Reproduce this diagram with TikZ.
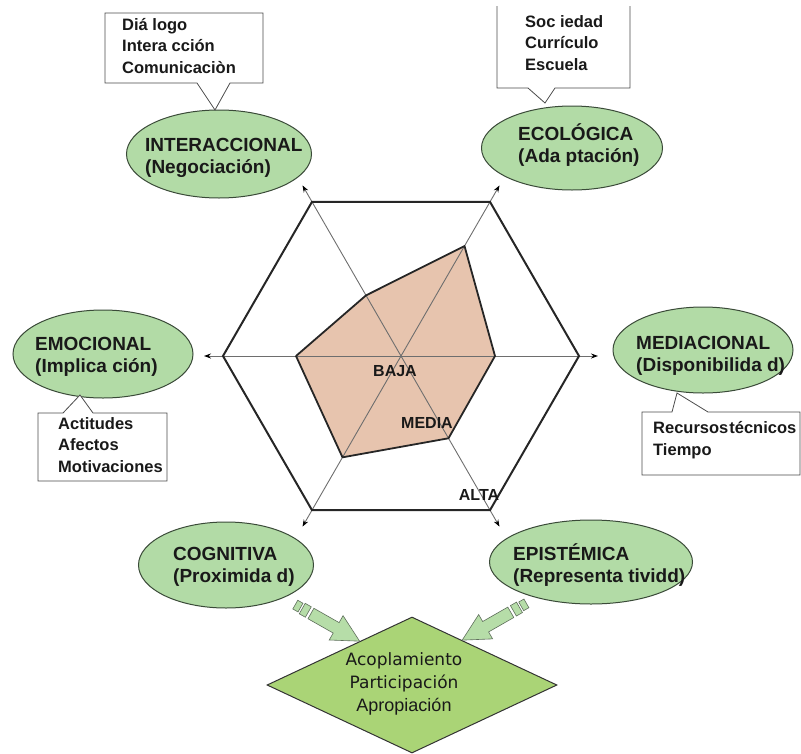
\documentclass[tikz,border=0pt]{standalone}
\usepackage{fontspec}
\setmainfont{Liberation Sans}
\newfontfamily\goalfont{DejaVu Sans}
\usetikzlibrary{shapes.geometric,arrows.meta,calc}
\definecolor{BubbleGreen}{HTML}{B2DBA6}
\definecolor{BubbleLine}{HTML}{3A4A38}
\definecolor{GoalGreen}{HTML}{AAD476}
\definecolor{ProfileFill}{HTML}{E7C4AE}
\definecolor{SpokeGray}{HTML}{6E6E6E}
\definecolor{PushGreen}{HTML}{B6DDA8}
\definecolor{PushLine}{HTML}{5F6F5C}
\tikzset{
  bubble/.style={ellipse,draw=BubbleLine,fill=BubbleGreen,line width=1pt,inner sep=0pt},
  bubtext/.style={anchor=west,align=left,inner sep=0pt,text=black!90,font=\fontsize{19}{22}\selectfont\bfseries},
  notebox/.style={draw=black!70,fill=white,line width=.8pt},
  notetext/.style={anchor=west,align=left,inner sep=0pt,text=black!90,font=\fontsize{16.5}{21.5}\selectfont\bfseries},
  grade/.style={inner sep=0pt,text=black!90,font=\fontsize{16}{18}\selectfont\bfseries},
  spoke/.style={SpokeGray,line width=.9pt,<->,>={Stealth[length=7pt,width=5pt,color=black]}},
  pusharrow/.style={draw=PushLine,fill=PushGreen,line width=.6pt}
}
\begin{document}
\begin{tikzpicture}[x=1pt,y=-1pt]
  \useasboundingbox (0,0) rectangle (801,753);
  \begin{scope}[shift={(401,356)},yscale=-1]
    \foreach \ang/\r/\lab in {0/94/med,60/127/eco,120/70/inter,180/105/emo,240/117/cog,300/95/epi}{\coordinate (p-\lab) at (\ang:\r);}
    \fill[ProfileFill] (p-med) -- (p-eco) -- (p-inter) -- (p-emo) -- (p-cog) -- (p-epi) -- cycle;
    \foreach \ang in {0,60,120}{\draw[spoke] (\ang+180:197) -- (\ang:197);}
    \draw[line width=1.8pt,black!85,line join=round] (p-med) -- (p-eco) -- (p-inter) -- (p-emo) -- (p-cog) -- (p-epi) -- cycle;
    \draw[line width=2pt,black!85] (0:178) -- (60:178) -- (120:178) -- (180:178) -- (240:178) -- (300:178) -- cycle;
  \end{scope}
  \node[grade] (baja) at (395,371) {BAJA};
  \node[grade] (media) at (427,423) {MEDIA};
  \node[grade] (alta) at (479,495) {ALTA};
  \foreach \lab/\cx/\cy/\w/\h/\tx/\ty/\txt in {inter/219/154/185/88/145/158/{INTERACCIONAL\\(Negociación)},eco/572/148/181/84/518/145/{ECOLÓGICA\\(Ada ptación)},emo/103/354/180/88/35/357/{EMOCIONAL\\(Implica ción)},med/703/350/180/86/636/356/{MEDIACIONAL\\(Disponibilida d)},cog/226/565/175/86/173/567/{COGNITIVA\\(Proximida d)},epi/591/562/203/84/513/565/{EPISTÉMICA\\(Representa tividd)}}{
    \node[bubble,minimum width=\w pt,minimum height=\h pt] (\lab) at (\cx,\cy) {};
    \node[bubtext] (\lab-t) at (\tx,\ty) {\txt};}
  \draw[notebox] (105,13) -- (263,13) -- (263,83) -- (230,83) -- (215,110) -- (197,83) -- (105,83) -- cycle;
  \node[notetext] (inter-n) at (122,46) {Diá logo\\Intera cción\\Comunicaciòn};
  \draw[notebox] (497,6) -- (497,88) -- (528,88) -- (545,103) -- (555,88) -- (630,88) -- (630,6);
  \node[notetext] (eco-n) at (525,43) {Soc iedad\\Currículo\\Escuela};
  \draw[notebox] (38,413) -- (63,413) -- (80,395) -- (93,413) -- (167,413) -- (167,481) -- (38,481) -- cycle;
  \node[notetext] (emo-n) at (58,445) {Actitudes\\Afectos\\Motivaciones};
  \draw[notebox] (642,412) -- (672,412) -- (677,393) -- (708,412) -- (800,412) -- (800,475) -- (642,475) -- cycle;
  \node[notetext] (med-n) at (653,440) {Recursos\hspace{1pt}técnicos\\Tiempo};
  \node[diamond,draw=black!80,fill=GoalGreen,line width=1pt,minimum width=290pt,minimum height=136pt,inner sep=0pt] (goal) at (412,685) {};
  \node[align=center,inner sep=0pt,text=black!90,font=\fontsize{17}{23}\selectfont] (goal-t) at (404,684) {{\goalfont Acoplamiento}\\{\goalfont Participación}\\{\fontsize{18}{23}\selectfont Apropiación}};
  \coordinate (in-cog) at ($(goal.north)!.36!(goal.west)$);
  \coordinate (in-epi) at ($(goal.north)!.345!(goal.east)$);
  \foreach \tip/\rot in {in-cog/-29.6,in-epi/-150.2}{
    \begin{scope}[shift={(\tip)},rotate=\rot]
      \draw[pusharrow] (0,0) -- (-27,14) -- (-27,6) -- (-56,6) -- (-56,-6) -- (-27,-6) -- (-27,-14) -- cycle;
      \draw[pusharrow] (-66,-6) rectangle (-59,6);
      \draw[pusharrow] (-74,-5) rectangle (-68,5);
    \end{scope}}
\end{tikzpicture}
\end{document}
